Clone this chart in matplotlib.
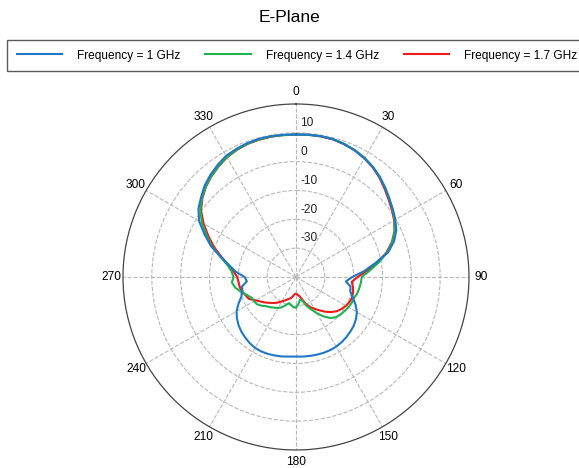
import numpy as np
import matplotlib
matplotlib.use("Agg")
import matplotlib.pyplot as plt

plt.rcParams['font.family'] = ['Liberation Sans', 'DejaVu Sans']

# angles in degrees (clockwise from top)
angles = np.arange(0, 360, 5)

# gain in dB
gain_1ghz = [9.4, 9.5, 9.6, 9.5, 9.0, 8.4, 7.5, 6.5, 5.2, 3.7,
             2.2, 1.0, -0.2, -1.6, -3.8, -6.9, -12.0, -16.2, -20.5, -22.6,
             -20.8, -20.5, -19.0, -17.2, -15.6, -14.6, -13.8, -13.3, -12.8, -12.4,
             -12.1, -12.0, -12.0, -12.1, -12.2, -12.3, -12.4, -12.3, -12.0, -11.8,
             -11.6, -11.5, -11.6, -12.0, -12.6, -13.2, -14.0, -15.0, -16.2, -18.0,
             -19.8, -20.8, -21.0, -22.9, -22.2, -19.0, -16.5, -13.0, -8.6, -5.0,
             -1.2, 1.3, 3.0, 4.8, 6.2, 7.4, 8.5, 9.0, 9.4, 9.6,
             9.6, 9.5]

gain_1_4ghz = [9.4, 9.5, 9.6, 9.5, 9.1, 8.5, 7.7, 6.6, 5.3, 3.8,
               2.3, 0.9, -0.5, -2.2, -4.4, -7.3, -10.8, -14.3, -17.2, -17.4,
               -17.7, -18.0, -18.6, -18.7, -19.0, -19.4, -19.8, -20.3, -21.4, -23.3,
               -25.5, -27.6, -29.3, -31.5, -32.0, -30.5, -29.3, -29.5, -30.2, -30.6,
               -29.6, -28.4, -27.6, -27.0, -26.3, -25.6, -24.5, -23.5, -23.2, -23.0,
               -21.8, -20.2, -18.6, -17.7, -18.3, -17.6, -15.8, -12.8, -9.0, -5.8,
               -2.3, 0.5, 2.6, 4.3, 5.7, 6.9, 8.0, 8.7, 9.2, 9.4,
               9.5, 9.4]

gain_1_7ghz = [9.4, 9.5, 9.5, 9.4, 9.0, 8.4, 7.5, 6.4, 5.0, 3.4,
               1.9, 0.6, -0.7, -2.3, -4.6, -7.6, -11.3, -15.3, -18.6, -20.6,
               -19.9, -19.5, -19.3, -19.5, -20.0, -20.7, -21.5, -22.8, -24.3, -25.9,
               -27.3, -28.5, -30.1, -32.0, -33.3, -33.8, -34.2, -34.0, -33.0, -32.3,
               -31.8, -31.0, -30.2, -29.2, -28.2, -27.3, -26.2, -25.1, -23.8, -22.0,
               -21.4, -20.6, -20.2, -20.0, -19.6, -18.3, -16.0, -13.3, -9.8, -6.5,
               -3.0, 0.2, 2.4, 4.2, 5.6, 6.8, 7.9, 8.6, 9.1, 9.3,
               9.4, 9.4]

labels = ['Frequency = 1 GHz', 'Frequency = 1.4 GHz', 'Frequency = 1.7 GHz']
colors = ['#1f77c8', '#1db34f', '#f01a1a']
r_ticks = [-30, -20, -10, 0, 10]

fig = plt.figure(figsize=(5.79, 4.68), dpi=100)
ax = fig.add_axes([0.2124, 0.0385, 0.5976, 0.7393], projection='polar')
ax.set_theta_zero_location('N')
ax.set_theta_direction(-1)

th = np.deg2rad(np.append(angles, angles[0]))
for g, lab, c, z in zip([gain_1ghz, gain_1_4ghz, gain_1_7ghz], labels, colors, [4, 3, 2]):
    ax.plot(th, np.append(g, g[0]), color=c, lw=1.5, label=lab, zorder=z)

ax.set_ylim(-40, 20)
ax.set_yticks(r_ticks)
ax.set_yticklabels([])
for v in r_ticks:
    ax.annotate(str(v), xy=(0, v), xytext=(3, 7), textcoords='offset points',
                ha='left', va='center', fontsize=8.6, color='#222222')

ax.set_xticks(np.deg2rad(np.arange(0, 360, 30)))
ax.set_xticklabels([str(a) for a in range(0, 360, 30)], fontsize=8.6)
ax.tick_params(axis='x', pad=-2)
ax.grid(True, linestyle='--', color='#b8b8b8', lw=0.8)
ax.spines['polar'].set_color('#444444')
ax.spines['polar'].set_linewidth(0.9)

fig.suptitle('E-Plane', y=0.962, va='center', fontsize=12.5)
fig.legend(loc='upper left', bbox_to_anchor=(7 / 579, 1 - 40 / 468), ncol=3,
           fontsize=8.6, frameon=True, fancybox=False, edgecolor='#333333',
           handlelength=3.8, handletextpad=1.25, columnspacing=2.1, borderpad=0.8,
           borderaxespad=0)

fig.savefig('out.png', dpi=100)
